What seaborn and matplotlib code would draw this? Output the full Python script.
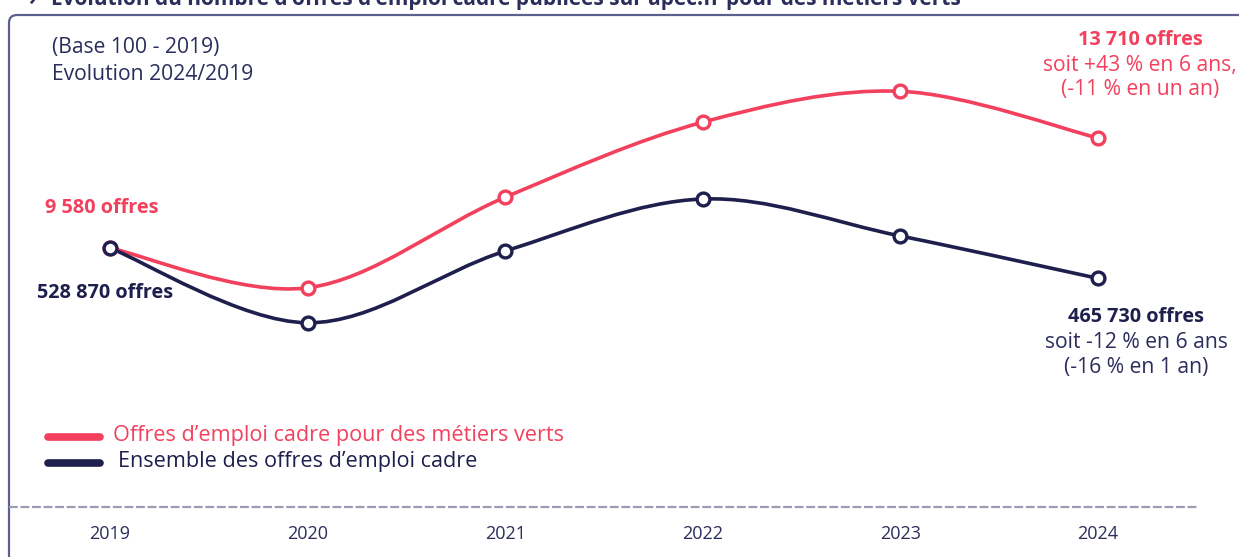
import matplotlib as mpl
mpl.use("Agg")
import matplotlib.pyplot as plt
from matplotlib.path import Path
from matplotlib.patches import PathPatch, FancyBboxPatch
import seaborn as sns

# Base 100 en 2019
years = [2019, 2020, 2021, 2022, 2023, 2024]
verts_index = [100, 84.4, 119.9, 149.3, 161.4, 143.1]
ensemble_index = [100, 70.7, 98.8, 119.2, 104.7, 88.1]

series_names = ["Offres d\u2019emploi cadre pour des métiers verts",
                "Ensemble des offres d\u2019emploi cadre"]
series_colors = ["#F2405D", "#1E1F4D"]

title = "Evolution du nombre d\u2019offres d\u2019emploi cadre publiées sur apec.fr pour des métiers verts"
base_note = ["(Base 100 - 2019)", "Evolution 2024/2019"]
verts_start = "9 580 offres"
ensemble_start = "528 870 offres"
verts_end = ["13 710 offres", "soit +43 % en 6 ans,", "(-11 % en un an)"]
ensemble_end = ["465 730 offres", "soit -12 % en 6 ans", "(-16 % en 1 an)"]

TEXT = "#2B2D5C"
GRID = "#9B9BB3"
FS = 15.2
FSB = 14.3


def smooth_path(xs, ys, tension=1.0):
    # Catmull-Rom converted to cubic Bezier segments
    pts = list(zip(xs, ys))
    verts = [pts[0]]
    codes = [Path.MOVETO]
    for i in range(len(pts) - 1):
        p0 = pts[i - 1] if i > 0 else pts[i]
        p1 = pts[i]
        p2 = pts[i + 1]
        p3 = pts[i + 2] if i + 2 < len(pts) else pts[i + 1]
        c1 = (p1[0] + (p2[0] - p0[0]) / 6 * tension, p1[1] + (p2[1] - p0[1]) / 6 * tension)
        c2 = (p2[0] - (p3[0] - p1[0]) / 6 * tension, p2[1] - (p3[1] - p1[1]) / 6 * tension)
        verts += [c1, c2, p2]
        codes += [Path.CURVE4] * 3
    return Path(verts, codes)


def main():
    sns.set_style("white")
    plt.rcParams["font.family"] = ["Open Sans", "DejaVu Sans"]

    W, H = 1239, 557
    fig = plt.figure(figsize=(W / 100, H / 100), dpi=100)

    # background layer in pixel coordinates for frame and texts
    bg = fig.add_axes([0, 0, 1, 1])
    bg.set_xlim(0, W)
    bg.set_ylim(H, 0)
    bg.axis("off")
    bg.add_patch(FancyBboxPatch((9, 15), 1300, 700,
                                boxstyle="round,pad=0,rounding_size=8",
                                fill=False, lw=1.6, ec="#5D608C"))

    # title, cut at the top edge as in the source image
    bg.text(28, -1, "\u203a", color=TEXT, fontsize=15, fontweight="bold", va="center")
    bg.text(51, -1, title, color=TEXT, fontsize=15, fontweight="bold", va="center")

    bg.text(52, 48, base_note[0], color=TEXT, fontsize=FS, va="center")
    bg.text(52, 74, base_note[1], color=TEXT, fontsize=FS, va="center")

    bg.text(45, 208, verts_start, color=series_colors[0], fontsize=FSB,
            fontweight="bold", va="center")
    bg.text(37, 293, ensemble_start, color=series_colors[1], fontsize=FSB,
            fontweight="bold", va="center")

    for i, (line, y) in enumerate(zip(verts_end, [40, 65, 90])):
        bg.text(1140, y, line, color=series_colors[0],
                fontsize=FSB if i == 0 else FS,
                fontweight="bold" if i == 0 else "normal", ha="center", va="center")
    for i, (line, y) in enumerate(zip(ensemble_end, [317, 343, 368])):
        bg.text(1136, y, line, color=TEXT if i else series_colors[1],
                fontsize=FSB if i == 0 else FS,
                fontweight="bold" if i == 0 else "normal", ha="center", va="center")

    # legend
    for name, color, ly, tx in zip(series_names, series_colors, [437, 463], [113, 118]):
        bg.plot([48, 100], [ly, ly], color=color, lw=5.5, solid_capstyle="round")
        bg.text(tx, ly - 2, name, color=color, fontsize=15.6, va="center")

    # data axes
    ax = fig.add_axes([0, 1 - 507 / H, 1, 507 / H])
    ax.patch.set_alpha(0)
    px_year = 197.6
    ax.set_xlim(2019 - 110 / px_year, 2019 + (W - 110) / px_year)
    px_unit = 110 / 43.1
    ax.set_ylim(100 - (507 - 248) / px_unit, 100 + 248 / px_unit)

    for vals, color in zip([verts_index, ensemble_index], series_colors):
        ax.add_patch(PathPatch(smooth_path(years, vals), fill=False, ec=color,
                               lw=2.6, capstyle="round", zorder=3))
        sns.scatterplot(x=years, y=vals, ax=ax, s=85, color="white",
                        edgecolor=color, linewidth=2.4, zorder=5)

    for side in ["top", "left", "right"]:
        ax.spines[side].set_visible(False)
    ax.spines["bottom"].set_color(GRID)
    ax.spines["bottom"].set_linewidth(1.6)
    ax.spines["bottom"].set_linestyle((0, (3, 2.2)))
    ax.spines["bottom"].set_bounds(2019 - 100 / px_year, 2019 + 1087 / px_year)
    ax.set_yticks([])
    ax.set_xticks(years)
    ax.set_xticklabels([str(y) for y in years], color=TEXT, fontsize=13)
    ax.tick_params(axis="x", length=0, pad=13)
    ax.set_xlabel("")
    ax.set_ylabel("")

    fig.savefig("out.png", dpi=100)


if __name__ == "__main__":
    main()
